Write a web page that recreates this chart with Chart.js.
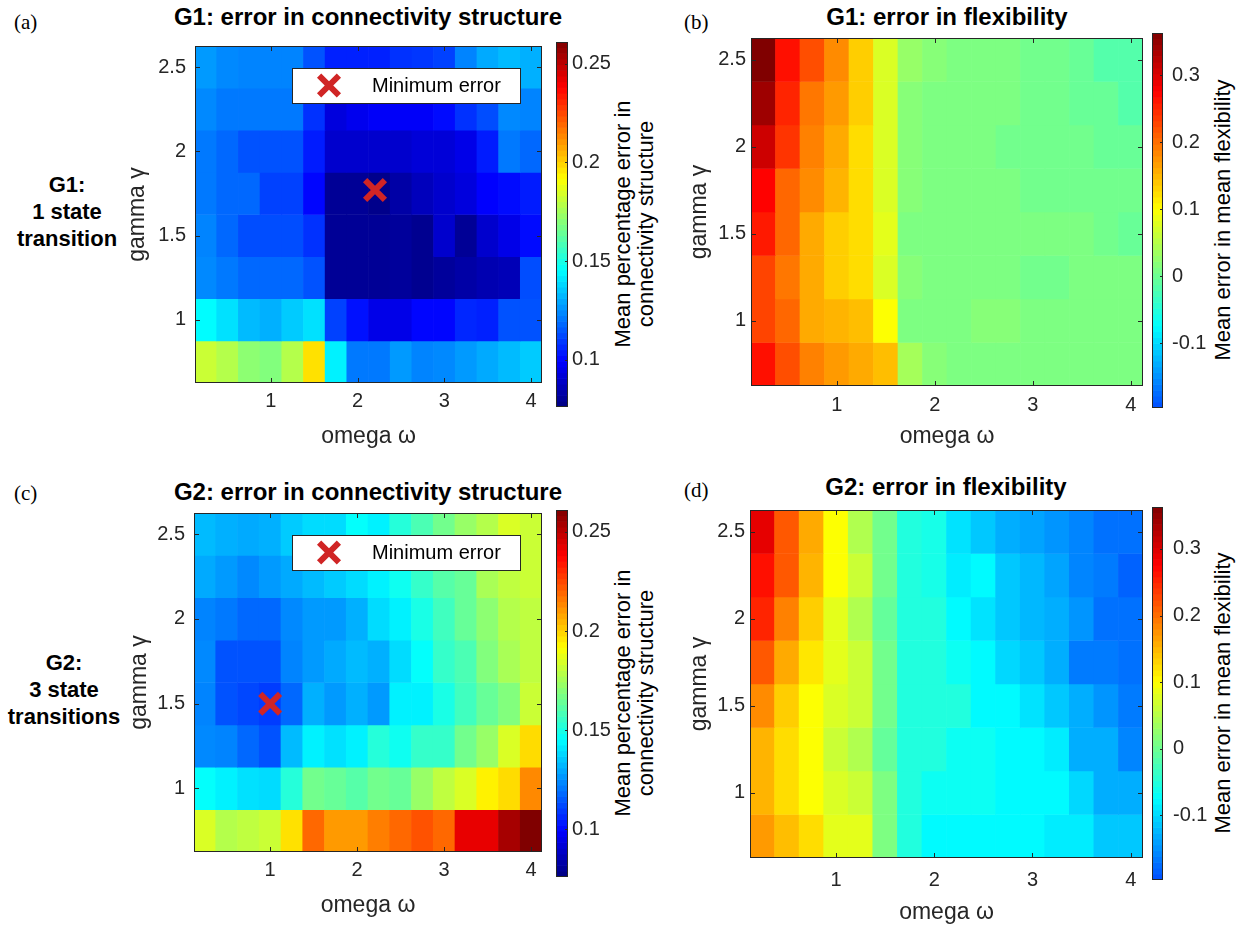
<!DOCTYPE html>
<html>
<head>
<meta charset="utf-8">
<title>Error in connectivity structure and flexibility</title>
<script src="https://cdn.jsdelivr.net/npm/chart.js@4.4.1/dist/chart.umd.min.js"></script>
<style>
  body { margin: 0; background: #fff; }
  #page { position: relative; width: 1240px; height: 926px; overflow: hidden; font-family: "Liberation Sans", Arial, sans-serif; color: #000; }
  #page canvas { position: absolute; }
  .txt { position: absolute; white-space: nowrap; transform: translate(-50%, -50%); }
  .title { font-weight: bold; font-size: 24px; }
  .letter { font-family: "Liberation Serif", "Times New Roman", serif; font-size: 21px; transform: translate(0, -50%); }
  .row { font-weight: bold; font-size: 22px; line-height: 27px; text-align: center; }
  .cblabel { font-size: 22px; line-height: 23px; text-align: center; transform: translate(-50%, -50%) rotate(-90deg); }
</style>
</head>
<body>
<div id="page">
  <div class="txt letter" style="left:14px;top:22px">(a)</div>
  <div class="txt letter" style="left:684px;top:22px">(b)</div>
  <div class="txt letter" style="left:14px;top:493px">(c)</div>
  <div class="txt letter" style="left:684px;top:490px">(d)</div>

  <div class="txt title" style="left:368px;top:17px">G1: error in connectivity structure</div>
  <div class="txt title" style="left:947px;top:17px">G1: error in flexibility</div>
  <div class="txt title" style="left:368px;top:492px">G2: error in connectivity structure</div>
  <div class="txt title" style="left:946px;top:487px">G2: error in flexibility</div>

  <div class="txt row" style="left:67px;top:211px">G1:<br>1 state<br>transition</div>
  <div class="txt row" style="left:64px;top:689px">G2:<br>3 state<br>transitions</div>

  <div class="txt cblabel" style="left:634px;top:224px">Mean percentage error in<br>connectivity structure</div>
  <div class="txt cblabel" style="left:1222px;top:220px">Mean error in mean flexibility</div>
  <div class="txt cblabel" style="left:634px;top:693px">Mean percentage error in<br>connectivity structure</div>
  <div class="txt cblabel" style="left:1222px;top:693px">Mean error in mean flexibility</div>
</div>

<script>
// grid of the parameter sweep
const omega = [0.25, 0.5, 0.75, 1, 1.25, 1.5, 1.75, 2, 2.25, 2.5, 2.75, 3, 3.25, 3.5, 3.75, 4];
const gamma = [0.75, 1, 1.25, 1.5, 1.75, 2, 2.25, 2.5];
const omegaTicks = [1, 2, 3, 4];
const gammaTicks = [1, 1.5, 2, 2.5];

// colour bar limits and ticks
const structRange = [0.076, 0.261];
const structTicks = [0.1, 0.15, 0.2, 0.25];
const flexRange = [-0.197, 0.363];
const flexTicks = [-0.1, 0, 0.1, 0.2, 0.3];

// rows go from gamma 0.75 (bottom) up to 2.5 (top), columns follow omega
const g1Struct = [
  [0.182, 0.178, 0.171, 0.169, 0.178, 0.197, 0.143, 0.121, 0.121, 0.127, 0.123, 0.124, 0.127, 0.130, 0.133, 0.136],
  [0.145, 0.140, 0.133, 0.131, 0.136, 0.140, 0.111, 0.102, 0.095, 0.095, 0.100, 0.100, 0.106, 0.105, 0.114, 0.114],
  [0.124, 0.121, 0.118, 0.118, 0.118, 0.114, 0.080, 0.080, 0.080, 0.081, 0.079, 0.081, 0.083, 0.085, 0.086, 0.113],
  [0.123, 0.118, 0.113, 0.113, 0.113, 0.108, 0.080, 0.080, 0.080, 0.081, 0.079, 0.090, 0.080, 0.090, 0.095, 0.101],
  [0.121, 0.118, 0.118, 0.111, 0.111, 0.100, 0.080, 0.080, 0.078, 0.083, 0.087, 0.090, 0.093, 0.099, 0.101, 0.104],
  [0.121, 0.118, 0.114, 0.114, 0.114, 0.104, 0.090, 0.090, 0.090, 0.090, 0.092, 0.092, 0.095, 0.104, 0.121, 0.118],
  [0.124, 0.121, 0.121, 0.121, 0.121, 0.108, 0.093, 0.096, 0.098, 0.098, 0.098, 0.101, 0.108, 0.113, 0.124, 0.123],
  [0.127, 0.124, 0.123, 0.123, 0.123, 0.114, 0.105, 0.105, 0.105, 0.108, 0.109, 0.111, 0.123, 0.130, 0.133, 0.131]
];

const g1Flex = [
  [0.265, 0.222, 0.187, 0.170, 0.159, 0.145, 0.039, 0.018, 0.011, 0.011, 0.011, 0.011, 0.011, 0.011, 0.011, 0.011],
  [0.229, 0.205, 0.159, 0.152, 0.145, 0.099, 0.011, 0.011, 0.011, 0.018, 0.018, 0.011, 0.011, 0.011, 0.011, 0.011],
  [0.229, 0.194, 0.159, 0.134, 0.124, 0.075, 0.018, 0.011, 0.011, 0.011, 0.011, 0.004, 0.004, 0.011, 0.011, 0.011],
  [0.258, 0.205, 0.159, 0.134, 0.124, 0.082, 0.011, 0.011, 0.011, 0.011, 0.011, 0.011, 0.011, 0.011, 0.004, -0.003],
  [0.275, 0.205, 0.180, 0.152, 0.124, 0.075, 0.018, 0.011, 0.011, 0.011, 0.011, 0.004, 0.004, 0.004, 0.004, 0.004],
  [0.310, 0.240, 0.187, 0.159, 0.124, 0.075, 0.018, 0.011, 0.011, 0.011, 0.004, 0.004, 0.004, 0.004, -0.003, -0.003],
  [0.342, 0.251, 0.194, 0.170, 0.134, 0.075, 0.018, 0.011, 0.011, 0.011, 0.011, 0.004, 0.004, -0.003, -0.003, -0.017],
  [0.363, 0.265, 0.222, 0.180, 0.134, 0.075, 0.029, 0.018, 0.011, 0.011, 0.011, 0.004, 0.004, -0.003, -0.017, -0.017]
];

const g2Struct = [
  [0.185, 0.178, 0.180, 0.182, 0.197, 0.219, 0.210, 0.210, 0.215, 0.219, 0.223, 0.219, 0.242, 0.242, 0.254, 0.261],
  [0.146, 0.143, 0.140, 0.139, 0.152, 0.166, 0.164, 0.161, 0.166, 0.164, 0.173, 0.180, 0.185, 0.194, 0.198, 0.213],
  [0.124, 0.123, 0.118, 0.114, 0.133, 0.143, 0.140, 0.143, 0.152, 0.148, 0.155, 0.155, 0.166, 0.173, 0.185, 0.198],
  [0.123, 0.114, 0.112, 0.110, 0.118, 0.131, 0.127, 0.131, 0.127, 0.143, 0.143, 0.150, 0.157, 0.164, 0.169, 0.182],
  [0.124, 0.114, 0.114, 0.114, 0.123, 0.127, 0.130, 0.133, 0.131, 0.139, 0.146, 0.155, 0.159, 0.169, 0.176, 0.180],
  [0.123, 0.121, 0.118, 0.118, 0.124, 0.127, 0.127, 0.131, 0.139, 0.143, 0.150, 0.157, 0.164, 0.171, 0.178, 0.180],
  [0.130, 0.127, 0.124, 0.127, 0.130, 0.133, 0.136, 0.139, 0.143, 0.148, 0.155, 0.161, 0.164, 0.176, 0.180, 0.182],
  [0.133, 0.131, 0.130, 0.131, 0.136, 0.139, 0.139, 0.146, 0.143, 0.152, 0.159, 0.166, 0.173, 0.178, 0.185, 0.182]
];

const g2Flex = [
  [0.170, 0.145, 0.124, 0.082, 0.082, 0.011, -0.052, -0.077, -0.077, -0.077, -0.077, -0.077, -0.087, -0.087, -0.112, -0.112],
  [0.152, 0.124, 0.099, 0.075, 0.064, 0.011, -0.052, -0.066, -0.066, -0.066, -0.077, -0.077, -0.077, -0.101, -0.130, -0.130],
  [0.152, 0.124, 0.099, 0.064, 0.046, -0.006, -0.052, -0.052, -0.066, -0.066, -0.077, -0.077, -0.087, -0.130, -0.130, -0.158],
  [0.180, 0.134, 0.099, 0.075, 0.064, 0.004, -0.052, -0.052, -0.052, -0.077, -0.077, -0.094, -0.112, -0.130, -0.147, -0.165],
  [0.215, 0.159, 0.117, 0.082, 0.064, 0.004, -0.052, -0.052, -0.066, -0.077, -0.101, -0.112, -0.130, -0.165, -0.165, -0.172],
  [0.251, 0.187, 0.134, 0.082, 0.046, -0.006, -0.052, -0.052, -0.077, -0.094, -0.112, -0.123, -0.130, -0.147, -0.172, -0.172],
  [0.265, 0.215, 0.152, 0.099, 0.064, 0.004, -0.052, -0.059, -0.087, -0.077, -0.112, -0.123, -0.137, -0.158, -0.165, -0.182],
  [0.293, 0.215, 0.159, 0.099, 0.046, 0.004, -0.052, -0.059, -0.094, -0.112, -0.130, -0.137, -0.147, -0.158, -0.172, -0.172]
];

// [omega, gamma] of the minimum error
const g1Min = [2.2, 1.77];
const g2Min = [1.0, 1.5];

const markerRed = "#d02525";
const axisGrey = "#262626";

Chart.defaults.font.family = '"Liberation Sans", Arial, sans-serif';
Chart.defaults.color = axisGrey;

// matlab style jet
function jet(t) {
  t = Math.max(0, Math.min(1, t));
  const c = v => Math.round(255 * Math.max(0, Math.min(1, v)));
  return `rgb(${c(1.5 - Math.abs(4 * t - 3))},${c(1.5 - Math.abs(4 * t - 2))},${c(1.5 - Math.abs(4 * t - 1))})`;
}

function colorFor(v, range, start) {
  const f = (v - range[0]) / (range[1] - range[0]);
  return jet(start + (1 - start) * f);
}

// box round the axes with ticks pointing inwards
const frame = {
  id: "frame",
  afterDatasetsDraw(chart, args, o) {
    const { ctx, chartArea: a } = chart;
    const x = chart.scales.x, y = chart.scales.y;
    const len = o.len;
    ctx.save();
    ctx.strokeStyle = axisGrey;
    ctx.lineWidth = 1;
    ctx.beginPath();
    if (o.xTicks) {
      x.ticks.forEach(t => {
        const p = Math.round(x.getPixelForValue(t.value)) + 0.5;
        ctx.moveTo(p, a.bottom); ctx.lineTo(p, a.bottom - len);
        ctx.moveTo(p, a.top); ctx.lineTo(p, a.top + len);
      });
    }
    y.ticks.forEach(t => {
      const p = Math.round(y.getPixelForValue(t.value)) + 0.5;
      if (o.left) { ctx.moveTo(a.left, p); ctx.lineTo(a.left + len, p); }
      ctx.moveTo(a.right, p); ctx.lineTo(a.right - len, p);
    });
    ctx.stroke();
    ctx.strokeRect(Math.round(a.left) + 0.5, Math.round(a.top) + 0.5, Math.round(a.width) - 1, Math.round(a.height) - 1);
    ctx.restore();
  }
};

// the "Minimum error" legend sits inside the axes, top right
const minLegend = {
  id: "minLegend",
  afterDatasetsDraw(chart, args, o) {
    if (!o.show) return;
    const { ctx, chartArea: a } = chart;
    const w = 228, h = 35;
    const bx = Math.round(a.right - 22 - w), by = Math.round(a.top + 22);
    ctx.save();
    ctx.fillStyle = "#fff";
    ctx.fillRect(bx, by, w, h);
    ctx.strokeStyle = axisGrey;
    ctx.lineWidth = 1;
    ctx.strokeRect(bx + 0.5, by + 0.5, w, h);

    const cx = bx + 37, cy = by + h / 2, r = 14 * Math.SQRT1_2;
    ctx.strokeStyle = markerRed;
    ctx.lineWidth = 6;
    ctx.beginPath();
    ctx.moveTo(cx - r, cy - r); ctx.lineTo(cx + r, cy + r);
    ctx.moveTo(cx + r, cy - r); ctx.lineTo(cx - r, cy + r);
    ctx.stroke();

    ctx.fillStyle = "#000";
    ctx.font = '20px "Liberation Sans", Arial, sans-serif';
    ctx.textBaseline = "middle";
    ctx.fillText("Minimum error", bx + 80, cy + 1);
    ctx.restore();
  }
};

const page = document.getElementById("page");

function makeCanvas(left, top, w, h) {
  const cv = document.createElement("canvas");
  cv.width = w;
  cv.height = h;
  cv.style.left = left + "px";
  cv.style.top = top + "px";
  page.appendChild(cv);
  return cv;
}

const panels = [
  { vals: g1Struct, range: structRange, start: 0, ticks: structTicks, min: g1Min,
    plot: { L: 195, T: 46, R: 542, B: 383 }, yPad: 9, xPad: 6, yTitleX: 138, xTitleY: 437,
    cb: { L: 556, T: 42, R: 568, B: 407, pad: 4 } },
  { vals: g1Flex, range: flexRange, start: 0.2, ticks: flexTicks, min: null,
    plot: { L: 751, T: 38, R: 1143, B: 386 }, yPad: 5, xPad: 7, yTitleX: 700, xTitleY: 437,
    cb: { L: 1152, T: 33, R: 1163, B: 408, pad: 9 } },
  { vals: g2Struct, range: structRange, start: 0, ticks: structTicks, min: g2Min,
    plot: { L: 194, T: 513, R: 542, B: 852 }, yPad: 9, xPad: 6, yTitleX: 140, xTitleY: 906,
    cb: { L: 556, T: 510, R: 568, B: 877, pad: 4 } },
  { vals: g2Flex, range: flexRange, start: 0.2, ticks: flexTicks, min: null,
    plot: { L: 750, T: 510, R: 1143, B: 858 }, yPad: 5, xPad: 10, yTitleX: 700, xTitleY: 913,
    cb: { L: 1152, T: 507, R: 1163, B: 880, pad: 10 } }
];

function heatmap(p) {
  const Wy = 90, Hx = 70, padTop = 50, padRight = 30;
  const { L, T, R, B } = p.plot;
  const cv = makeCanvas(L - Wy, T - padTop, (R - L) + Wy + padRight, (B - T) + padTop + Hx);

  const halfW = (omega[1] - omega[0]) / 2;
  const halfH = (gamma[1] - gamma[0]) / 2;
  const cells = [];
  gamma.forEach((g, r) => {
    omega.forEach((w, c) => {
      cells.push({ x: w, y: [g - halfH, g + halfH], v: p.vals[r][c] });
    });
  });

  const datasets = [{
    type: "bar",
    data: cells,
    grouped: false,
    barPercentage: 1,
    categoryPercentage: 1,
    borderWidth: 0,
    order: 1,
    backgroundColor: ctx => colorFor(ctx.raw.v, p.range, p.start)
  }];
  if (p.min) {
    datasets.push({
      type: "scatter",
      data: [{ x: p.min[0], y: p.min[1] }],
      pointStyle: "crossRot",
      pointRadius: 14,
      pointBorderWidth: 6,
      borderColor: markerRed,
      backgroundColor: markerRed,
      order: 0
    });
  }

  new Chart(cv, {
    type: "bar",
    data: { datasets },
    options: {
      responsive: false,
      animation: false,
      events: [],
      layout: { padding: { top: padTop, right: padRight, left: 0, bottom: 0 } },
      plugins: {
        legend: { display: false },
        tooltip: { enabled: false },
        frame: { len: 5, xTicks: true, left: true },
        minLegend: { show: !!p.min }
      },
      scales: {
        x: {
          type: "linear",
          position: "bottom",
          offset: false,
          min: omega[0] - halfW,
          max: omega[omega.length - 1] + halfW,
          afterBuildTicks: s => { s.ticks = omegaTicks.map(value => ({ value })); },
          afterFit: s => { s.height = Hx; },
          grid: { display: false, drawTicks: false },
          border: { display: false },
          ticks: { font: { size: 20 }, padding: p.xPad, maxRotation: 0, autoSkip: false, callback: v => String(v) },
          title: { display: true, text: "omega ω", font: { size: 23 }, padding: { top: 0, bottom: B + Hx - p.xTitleY - 13.8 } }
        },
        y: {
          type: "linear",
          position: "left",
          beginAtZero: false,
          min: gamma[0] - halfH,
          max: gamma[gamma.length - 1] + halfH,
          afterBuildTicks: s => { s.ticks = gammaTicks.map(value => ({ value })); },
          afterFit: s => { s.width = Wy; },
          grid: { display: false, drawTicks: false },
          border: { display: false },
          ticks: { font: { size: 20 }, padding: p.yPad, autoSkip: false, callback: v => String(v) },
          title: { display: true, text: "gamma γ", font: { size: 23 }, padding: { top: p.yTitleX - (L - Wy) - 13.8, bottom: 0 } }
        }
      }
    },
    plugins: [frame, minLegend]
  });
}

function colorbar(p) {
  const { L, T, R, B, pad } = p.cb;
  const padL = 10, padV = 30, Wr = 60;
  const cv = makeCanvas(L - padL, T - padV, (R - L) + padL + Wr, (B - T) + 2 * padV);

  // 64 colour steps, like the matlab colour bar
  const [lo, hi] = p.range;
  const n = 64, step = (hi - lo) / n;
  const levels = [];
  for (let k = 0; k < n; k++) levels.push({ x: 0, y: [lo + k * step, lo + (k + 1) * step] });

  new Chart(cv, {
    type: "bar",
    data: {
      datasets: [{
        data: levels,
        grouped: false,
        barPercentage: 1,
        categoryPercentage: 1,
        borderWidth: 0,
        backgroundColor: ctx => colorFor((ctx.raw.y[0] + ctx.raw.y[1]) / 2, p.range, p.start)
      }]
    },
    options: {
      responsive: false,
      animation: false,
      events: [],
      layout: { padding: { left: padL, top: padV, bottom: padV, right: 0 } },
      plugins: {
        legend: { display: false },
        tooltip: { enabled: false },
        frame: { len: 3, xTicks: false, left: false }
      },
      scales: {
        x: {
          type: "linear",
          display: false,
          offset: false,
          min: -0.5,
          max: 0.5,
          afterBuildTicks: s => { s.ticks = [{ value: 0 }]; }
        },
        y: {
          type: "linear",
          position: "right",
          beginAtZero: false,
          min: lo,
          max: hi,
          afterBuildTicks: s => { s.ticks = p.ticks.map(value => ({ value })); },
          afterFit: s => { s.width = Wr; },
          grid: { display: false, drawTicks: false },
          border: { display: false },
          ticks: { font: { size: 20 }, padding: pad, autoSkip: false, callback: v => String(v) }
        }
      }
    },
    plugins: [frame]
  });
}

panels.forEach(p => {
  heatmap(p);
  colorbar(p);
});
</script>
</body>
</html>
